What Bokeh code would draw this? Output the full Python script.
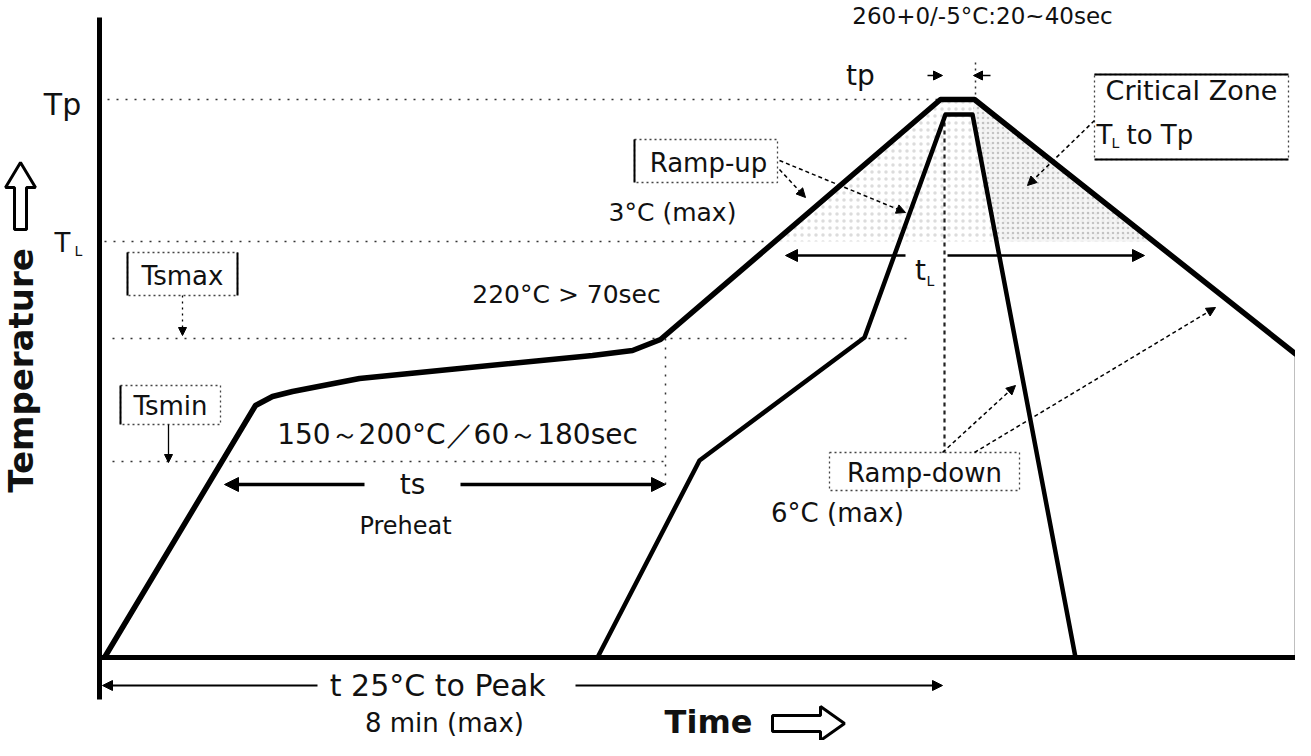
from math import pi
from bokeh.plotting import figure
from bokeh.models import Range1d, Arrow, NormalHead
from bokeh.core.properties import value
from bokeh.embed import file_html
from bokeh.resources import INLINE

# ---- data (drawing units: time to the right, temperature upward = smaller y) ----
# main (maximum) reflow profile
main_time = [112, 263, 280, 300, 367, 467, 600, 640, 668, 948, 982, 1305, 1305]
main_temp = [665, 413, 404, 399, 386, 376, 363, 358, 347, 107, 107, 363, 665]
# inner (minimum) reflow profile
inner_time = [605, 707, 872, 953, 980, 1083]
inner_temp = [665, 468, 345, 122, 122, 665]
# critical zone TL..Tp (area under the main profile above TL)
zone_time = [782, 948, 982, 1161]
zone_temp = [249, 107, 107, 249]
# denser stipple between the two ramp-down lines
zone2_time = [980, 982, 1161, 1004]
zone2_temp = [122, 107, 249, 249]

# reference temperature levels
level_names = ["Tp", "TL", "Tsmax", "Tsmin"]
level_temp = [107, 249, 346, 469]
level_from = [115, 112, 120, 120]
level_to = [948, 775, 918, 674]

# axes
axis_x = [107, 107]
axis_y = [25, 707]
base_x = [107, 1305]
base_y = [665, 665]

FONT = value("DejaVu Sans")

p = figure(width=1295, height=740, x_range=Range1d(8, 1303), y_range=Range1d(748, 8),
           output_backend="svg", toolbar_location=None,
           x_axis_location=None, y_axis_location=None, min_border=0,
           outline_line_color=None, background_fill_color="white",
           border_fill_color="white")
p.grid.visible = False

# shaded critical zone (light stipple)
p.patch(zone_time, zone_temp, fill_alpha=0, line_color=None,
        hatch_pattern="dot", hatch_color="#9a9a9a", hatch_alpha=0.35, hatch_scale=7)
p.patch(zone2_time, zone2_temp, fill_color="#f3f3f3", fill_alpha=0.8, line_color=None,
        hatch_pattern="dot", hatch_color="#888888", hatch_alpha=0.45, hatch_scale=5)

# dotted reference levels
p.multi_line([[a, b] for a, b in zip(level_from, level_to)],
             [[t, t] for t in level_temp],
             line_color="#333333", line_width=1.5, line_dash="2 7")
# dotted verticals
p.line([673, 673], [346, 495], line_color="#333333", line_width=1.5, line_dash="2 7")
p.line([983, 983], [70, 107], line_color="#333333", line_width=1.5, line_dash="2 4")
p.line([952, 952], [122, 460], line_color="#222222", line_width=2.2, line_dash="4 4")

# profiles
p.line(main_time, main_temp, line_color="black", line_width=5.5, line_join="round")
p.line(inner_time, inner_temp, line_color="black", line_width=4.5, line_join="round")

# axes lines
p.line(axis_x, axis_y, line_color="black", line_width=5)
p.line(base_x, base_y, line_color="black", line_width=5)


def arrow(x0, y0, x1, y1, w=2.0, size=11, dash="solid"):
    p.add_layout(Arrow(end=NormalHead(size=size, fill_color="black", line_color="black"),
                       x_start=x0, y_start=y0, x_end=x1, y_end=y1,
                       line_width=w, line_color="black", line_dash=dash))


# ts arrows
arrow(372, 492, 232, 492, w=3.5, size=14)
arrow(468, 492, 673, 492, w=3.5, size=14)
# tL arrows
arrow(913, 263, 793, 263, w=2.5, size=12)
arrow(955, 263, 1152, 263, w=2.5, size=12)
# tp arrows
arrow(935, 83, 950, 83, w=1.5, size=9)
arrow(998, 83, 981, 83, w=1.5, size=9)
# t 25C to peak
arrow(325, 693, 110, 693, w=2, size=10)
arrow(583, 693, 950, 693, w=2, size=10)
# Tsmax / Tsmin pointers
arrow(190, 303, 190, 343, w=1.3, size=8, dash="2 4")
arrow(176, 432, 176, 470, w=1.3, size=8)
# Ramp-up pointers
arrow(787, 177, 813, 205, w=1.5, size=9, dash="4 3")
arrow(787, 168, 913, 220, w=1.5, size=9, dash="4 3")
# critical zone pointer
arrow(1102, 128, 1035, 193, w=1.5, size=9, dash="4 3")
# Ramp-down pointers
arrow(950, 460, 1023, 393, w=1.5, size=9, dash="4 3")
arrow(982, 460, 1223, 315, w=1.5, size=9, dash="4 3")

# label boxes: (x0, x1, y0, y1)
boxes = {
    "Tsmax": (135, 245, 260, 303),
    "Tsmin": (128, 228, 393, 432),
    "Ramp-up": (642, 785, 147, 190),
    "Critical": (1102, 1296, 82, 167),
    "Ramp-down": (837, 1027, 460, 498),
}
for x0, x1, y0, y1 in boxes.values():
    p.line([x0, x1, x1, x0, x0], [y0, y0, y1, y1, y0], line_color="#444444",
           line_width=1.3, line_dash="2 3")
# solid brackets
for x0, x1, y0, y1 in [boxes["Tsmax"]]:
    p.multi_line([[x0, x0], [x1, x1]], [[y0, y1], [y0, y1]], line_color="black", line_width=2)
for x0, x1, y0, y1 in [boxes["Tsmin"], boxes["Ramp-up"]]:
    p.line([x0, x0], [y0, y1], line_color="black", line_width=2)
x0, x1, y0, y1 = boxes["Critical"]
p.multi_line([[x0, x1], [x0, x1]], [[y0, y0], [y1, y1]], line_color="black", line_width=2)


def label(txt, x, y, size, align="center", bold=False, color="#111111", angle=0):
    p.text([x], [y], text=[txt], text_font=FONT, text_font_size=value(f"{size}px"),
           text_align=align, text_baseline="middle", text_color=color,
           text_font_style="bold" if bold else "normal", angle=angle)


label("260+0/-5°C:20~40sec", 990, 23, 23)
label("tp", 868, 83, 28)
label("Critical Zone", 1199, 98, 27)
label("T", 1104, 142, 26, align="left")
label("L", 1119, 150, 14, align="left")
label("to Tp", 1134, 142, 26, align="left")
label("Ramp-up", 716, 170, 26)
label("3°C (max)", 680, 220, 25)
label("220°C > 70sec", 574, 302, 25)
label("Tsmax", 190, 283, 26)
label("Tsmin", 178, 413, 26)
label("150～200°C／60～180sec", 465, 442, 28)
label("ts", 420, 492, 28)
label("Preheat", 413, 533, 24)
label("Ramp-down", 932, 480, 26)
label("6°C (max)", 845, 520, 26)
label("t  25°C to Peak", 450, 693, 30)
label("8 min (max)", 452, 730, 26)
label("Time", 716, 729, 32, bold=True)
label("Tp", 70, 112, 30)
label("T", 70, 250, 26)
label("L", 86, 258, 14)
label("t", 928, 278, 28)
label("L", 938, 288, 14)
label("Temperature", 28, 378, 34, bold=True, angle=pi / 2)

# outline arrows (⇨ and ⇧)
p.patch([780, 828, 828, 852, 828, 828, 780], [723, 723, 714, 731, 748, 739, 739],
        fill_color="white", line_color="black", line_width=3)
p.patch([28, 43, 34, 34, 22, 22, 13], [170, 195, 195, 237, 237, 195, 195],
        fill_color="white", line_color="black", line_width=3)

open("out.html", "w").write(file_html(p, INLINE))
